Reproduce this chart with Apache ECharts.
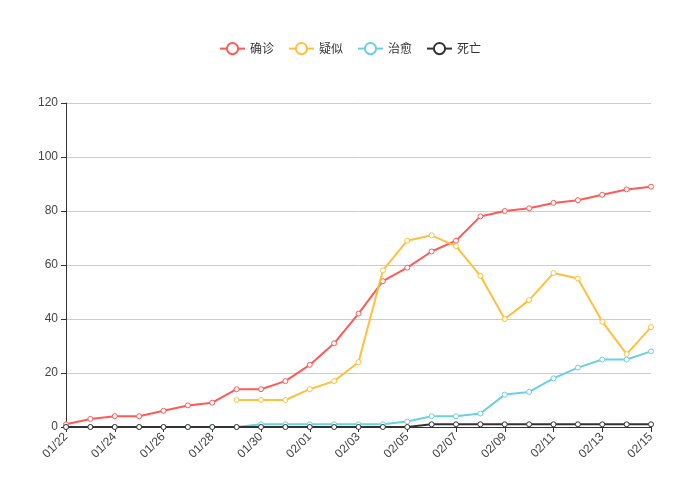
<!DOCTYPE html>
<html><head><meta charset="utf-8">
<script src="https://cdn.jsdelivr.net/npm/echarts@6/dist/echarts.min.js"></script>
</head><body style="margin:0">
<div id="c" style="width:700px;height:500px"></div>
<script>
const dates=['01/22','01/23','01/24','01/25','01/26','01/27','01/28','01/29','01/30','01/31','02/01','02/02','02/03','02/04','02/05','02/06','02/07','02/08','02/09','02/10','02/11','02/12','02/13','02/14','02/15'];
const confirmed=[1,3,4,4,6,8,9,14,14,17,23,31,42,54,59,65,69,78,80,81,83,84,86,88,89];
const suspected=[null,null,null,null,null,null,null,10,10,10,14,17,24,58,69,71,67,56,40,47,57,55,39,27,37];
const cured=[0,0,0,0,0,0,0,0,1,1,1,1,1,1,2,4,4,5,12,13,18,22,25,25,28];
const dead=[0,0,0,0,0,0,0,0,0,0,0,0,0,0,0,1,1,1,1,1,1,1,1,1,1];
const names=['确诊','疑似','治愈','死亡'];
const colors=['#ff5a57','#ffc03d','#6bd0e0','#333333'];
const data=[confirmed,suspected,cured,dead];
const ch=echarts.init(document.getElementById('c'));
ch.setOption({
 color:colors,
 legend:{top:37,left:'center',itemGap:14,textStyle:{color:'#333',fontSize:12,fontFamily:'Noto Sans CJK SC'},data:names},
 grid:{left:66,right:49,top:103,bottom:73},
 xAxis:{type:'category',boundaryGap:false,data:dates,
  axisLabel:{interval:1,rotate:45,color:'#444',fontSize:12},
  axisLine:{lineStyle:{color:'#333'}},axisTick:{interval:1}},
 yAxis:{type:'value',min:0,max:120,interval:20,
  axisLine:{show:true,lineStyle:{color:'#333'}},axisTick:{show:true},
  axisLabel:{color:'#444'},splitLine:{lineStyle:{color:'#ccc'}}},
 series:names.map((n,i)=>({name:n,type:'line',data:data[i],symbol:'circle',symbolSize:5,
  itemStyle:{color:'#fff',borderColor:colors[i],borderWidth:1},
  lineStyle:{color:colors[i],width:2},z:3+i}))
});
</script></body></html>
